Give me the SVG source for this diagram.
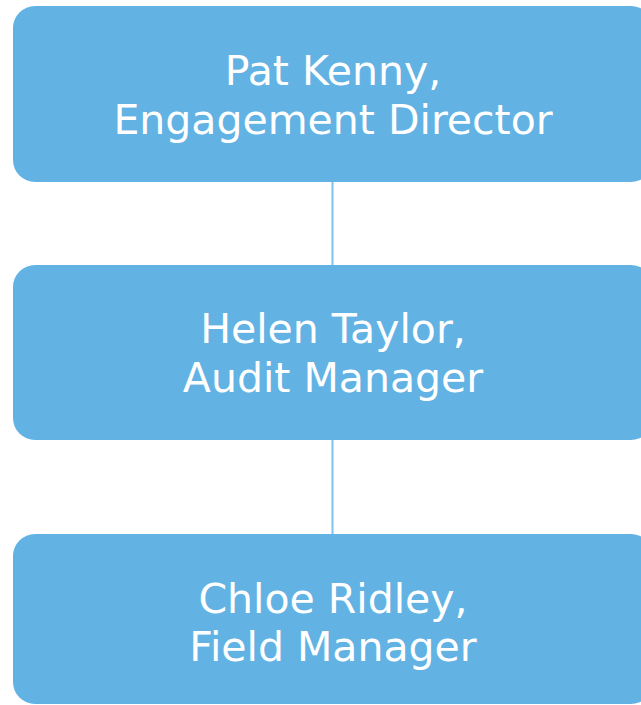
<svg xmlns="http://www.w3.org/2000/svg" width="641" height="705" viewBox="0 0 641 705">
<style>
.box{fill:#62b3e4;}
.lbl{fill:#ffffff;font-family:"DejaVu Sans","Verdana",sans-serif;font-size:41px;text-anchor:middle;}
.conn{stroke:#7dc2f0;stroke-width:2;fill:none;}
</style>
<rect width="641" height="705" fill="#ffffff"/>
<g id="connectors">
<line class="conn" x1="332.5" y1="182" x2="332.5" y2="265"/>
<line class="conn" x1="332.5" y1="440" x2="332.5" y2="534"/>
</g>
<g id="node-pat">
<rect class="box" x="13" y="6" width="640" height="176" rx="22" ry="22"/>
<text class="lbl" x="333" y="85">Pat Kenny,</text>
<text class="lbl" x="333" y="134">Engagement Director</text>
</g>
<g id="node-helen">
<rect class="box" x="13" y="265" width="640" height="175" rx="22" ry="22"/>
<text class="lbl" x="333" y="343">Helen Taylor,</text>
<text class="lbl" x="333" y="392">Audit Manager</text>
</g>
<g id="node-chloe">
<rect class="box" x="13" y="534" width="640" height="170" rx="22" ry="22"/>
<text class="lbl" x="333" y="613">Chloe Ridley,</text>
<text class="lbl" x="333" y="661">Field Manager</text>
</g>
</svg>
